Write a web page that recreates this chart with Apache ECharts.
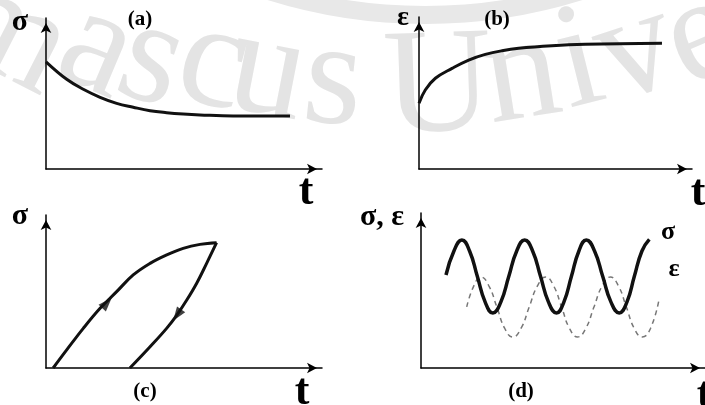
<!DOCTYPE html>
<html>
<head>
<meta charset="utf-8">
<script src="https://cdn.jsdelivr.net/npm/echarts@6/dist/echarts.min.js"></script>
<style>
  html, body { margin: 0; padding: 0; background: #fff; }
  #chart { width: 705px; height: 405px; }
</style>
</head>
<body>
<div id="chart"></div>
<script>
// (a) stress relaxation: stress against time at constant strain
const relaxTime   = [0, 7.5, 13.5, 19.6, 25.6, 31.6, 37.7, 43.7, 49.7, 55.8, 67.8, 88.4];
const relaxStress = [71, 59.4, 52.8, 47.5, 43.5, 40.9, 38.6, 37.3, 36.4, 35.8, 35.1, 35.1];

// (b) creep: strain against time at constant stress
const creepTime   = [0, 2.3, 6, 12.1, 18.2, 24.3, 30.4, 36.5, 48.7, 60.9, 89];
const creepStrain = [43.2, 52, 59.7, 66.2, 71.7, 75.4, 77.8, 79.4, 81.1, 82, 82.7];

// (c) hysteresis loop: loading and unloading branches
const loadX   = [2.6, 7.5, 13.5, 19.6, 25.6, 31.6, 37.7, 43.7, 49.7, 55.8, 61.8];
const loadY   = [0, 11.8, 25.9, 39, 49.9, 60.8, 68.4, 73.9, 78.2, 80.8, 81.9];
const unloadX = [61.8, 58.2, 54.6, 51, 47.4, 43.7, 37.7, 30.4];
const unloadY = [81.9, 68.4, 55.4, 44.4, 34.6, 25.9, 13.9, 0];
const loopArrowX   = [22.1, 47.5];
const loopArrowY   = [42.5, 34.6];
const loopArrowDir = [-43, 145];

// (d) cyclic loading: stress leads, strain lags behind it
const cycStressT = [8.8, 11.6, 14.4, 17.1, 19.85, 22.6, 25.3, 28.1, 30.9, 33.7, 36.5, 39.3, 42.1,
                    44.9, 47.7, 50.3, 52.95, 55.6, 58.2, 61.1, 64, 66.9, 69.8, 72.5, 75.1, 77.8, 80.4];
const cycStressV = [60, 75.5, 82.6, 75.5, 59, 42.5, 35.5, 42.5, 59, 75.5, 82.6, 75.5, 59,
                    42.5, 35.5, 42.5, 59, 75.5, 82.6, 75.5, 59, 42.5, 35.5, 42.5, 59, 75.5, 83];
const cycStrainT = [16.1, 18.6, 21.1, 23.9, 26.7, 29.5, 32.3, 35.2, 38.1, 41, 43.9, 46.7, 49.5,
                    52.3, 55.1, 58, 60.9, 63.8, 66.7, 69.5, 72.3, 75.1, 77.9, 80.8, 83.9];
const cycStrainV = [39.4, 53, 58.7, 53, 39.4, 25.5, 20, 25.5, 39.4, 53, 58.7, 53, 39.4,
                    25.5, 20, 25.5, 39.4, 53, 58.7, 53, 39.4, 25.5, 20, 25.5, 45];

const pairs = (xs, ys) => xs.map((x, i) => [x, ys[i]]);

const SERIF = '"Liberation Serif", "Times New Roman", serif';

// four small panels, each a grid with arrowed axes and no ticks
const grids = [
  { left: 46,  top: 18,  width: 276, height: 151 },
  { left: 419, top: 17,  width: 273, height: 152 },
  { left: 46,  top: 215, width: 276, height: 153 },
  { left: 421, top: 213, width: 285, height: 155 }
];

const axisBase = {
  type: 'value', min: 0, max: 100,
  axisLine: {
    show: true,
    symbol: ['none', 'arrow'],
    symbolSize: [8, 10],
    symbolOffset: [0, -5],
    lineStyle: { color: '#000', width: 1.5 }
  },
  axisTick: { show: false },
  axisLabel: { show: false },
  splitLine: { show: false }
};

const xAxes = grids.map((g, i) => Object.assign({ gridIndex: i }, axisBase));
const yAxes = grids.map((g, i) => Object.assign({ gridIndex: i }, axisBase));

const curve = { type: 'line', showSymbol: false, symbol: 'none', silent: true, animation: false };

// faint university seal text running along an arc behind the panels
const sealLetters = [
  ['D', -205, 42, -33], ['a', -112, 62, -30], ['m', -15, 80, -27],
  ['a', 77, 97, -23], ['s', 135, 110, -19], ['c', 200, 114, -15],
  ['u', 258, 124, -11], ['s', 328, 134, -6],
  ['U', 440, 142, 2], ['n', 530, 128, 9], ['i', 592, 114, 14],
  ['v', 652, 102, 18], ['e', 722, 86, 23], ['r', 790, 60, 27],
  ['s', 850, 36, 31], ['i', 900, 12, 34], ['t', 940, -8, 37], ['y', 990, -35, 40]
];
const SEAL_SIZE = 150;
const sealGraphics = sealLetters.map(([ch, x, y, deg]) => ({
  type: 'text', x: x, y: y, rotation: deg * Math.PI / 180, z: -10, silent: true,
  style: {
    text: ch, x: 0, y: -0.34 * SEAL_SIZE,
    fontFamily: SERIF, fontSize: SEAL_SIZE, fontWeight: 'normal',
    fill: '#e4e4e4', align: 'center', verticalAlign: 'middle'
  }
}));
sealGraphics.push({
  type: 'arc', z: -10, silent: true,
  shape: { cx: 425, cy: -505, r: 520, startAngle: 1.22, endAngle: 1.92 },
  style: { stroke: '#e8e8e8', lineWidth: 18, fill: null, lineCap: 'round' }
});

// axis symbols and panel captions
const labels = [
  ['σ', 20, 22, 30], ['(a)', 140, 20, 21], ['t', 306, 193, 44],
  ['ε', 403, 18, 28], ['(b)', 497, 20, 21], ['t', 698, 194, 44],
  ['σ', 20, 216, 30], ['(c)', 145, 392, 21], ['t', 302, 393, 44],
  ['σ, ε', 382, 217, 30], ['(d)', 521, 392, 21], ['t', 704, 396, 44],
  ['σ', 668, 232, 26], ['ε', 674, 269, 26]
];
const labelGraphics = labels.map(([txt, x, y, size]) => ({
  type: 'text', x: x, y: y, z: 10, silent: true,
  style: {
    text: txt, fontFamily: SERIF, fontSize: size, fontWeight: 'bold',
    fill: '#000', align: 'center', verticalAlign: 'middle'
  }
}));

const chart = echarts.init(document.getElementById('chart'), null, { renderer: 'canvas' });
chart.setOption({
  animation: false,
  backgroundColor: '#fff',
  grid: grids,
  xAxis: xAxes,
  yAxis: yAxes,
  graphic: { elements: sealGraphics.concat(labelGraphics) },
  series: [
    Object.assign({}, curve, {
      xAxisIndex: 0, yAxisIndex: 0, smooth: 0.4,
      data: pairs(relaxTime, relaxStress),
      lineStyle: { color: '#111', width: 3 }
    }),
    Object.assign({}, curve, {
      xAxisIndex: 1, yAxisIndex: 1, smooth: 0.4,
      data: pairs(creepTime, creepStrain),
      lineStyle: { color: '#111', width: 3 }
    }),
    Object.assign({}, curve, {
      xAxisIndex: 2, yAxisIndex: 2, smooth: 0.4,
      data: pairs(loadX, loadY),
      lineStyle: { color: '#111', width: 3 }
    }),
    Object.assign({}, curve, {
      xAxisIndex: 2, yAxisIndex: 2, smooth: 0.4,
      data: pairs(unloadX, unloadY),
      lineStyle: { color: '#111', width: 3 }
    }),
    {
      type: 'scatter', xAxisIndex: 2, yAxisIndex: 2, silent: true, animation: false,
      symbol: 'triangle', symbolSize: [10, 14],
      data: loopArrowX.map((x, i) => ({ value: [x, loopArrowY[i]], symbolRotate: loopArrowDir[i] })),
      itemStyle: { color: '#111' }
    },
    Object.assign({}, curve, {
      xAxisIndex: 3, yAxisIndex: 3, smooth: 0.5,
      data: pairs(cycStrainT, cycStrainV),
      lineStyle: { color: '#777', width: 1.5, type: [5, 4] }
    }),
    Object.assign({}, curve, {
      xAxisIndex: 3, yAxisIndex: 3, smooth: 0.5,
      data: pairs(cycStressT, cycStressV),
      lineStyle: { color: '#111', width: 3.5 }
    })
  ]
});
</script>
</body>
</html>
